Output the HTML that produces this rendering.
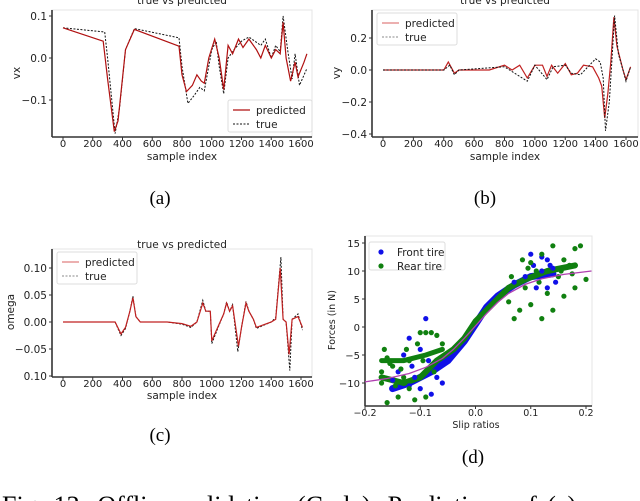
<!DOCTYPE html>
<html><head><meta charset="utf-8"><style>
html,body{margin:0;padding:0;background:#fff;overflow:hidden}
svg{display:block;font-family:"DejaVu Sans","Liberation Sans",sans-serif}
.cap{font-family:"Liberation Serif",serif}
</style></head><body>
<svg id="fig" width="640" height="501" viewBox="0 0 640 501">
<g id="pa"></g>
<g id="pb"></g>
<g id="pc"></g>
<g id="pd"></g>
<text class="cap" x="160" y="204" font-size="19" text-anchor="middle">(a)</text>
<text class="cap" x="485" y="204" font-size="19" text-anchor="middle">(b)</text>
<text class="cap" x="160" y="441" font-size="19" text-anchor="middle">(c)</text>
<text class="cap" x="473" y="463" font-size="19" text-anchor="middle">(d)</text>
<text class="cap" x="2" y="514" font-size="26" word-spacing="4">Fig. 12: Offline validation (Carla). Predictions of (a) c</text>
</svg>
<script>
// ---- panel a data ----
const aPredX=[0,270,300,345,370,420,480,780,800,830,870,900,930,950,980,1020,1050,1080,1110,1140,1180,1210,1250,1300,1330,1360,1400,1430,1460,1480,1500,1530,1560,1580,1620,1640];
const aPredY=[0.072,0.04,-0.05,-0.175,-0.15,0.02,0.068,0.028,-0.04,-0.08,-0.065,-0.04,-0.055,-0.06,0.0,0.045,0.0,-0.075,0.03,0.01,0.045,0.025,0.045,0.02,0.0,0.03,0.0,0.02,0.01,0.085,0.0,-0.055,-0.01,-0.045,-0.01,0.01];
const aTrueX=[0,280,300,350,380,420,480,780,800,840,880,920,950,1000,1030,1050,1080,1110,1150,1200,1250,1290,1330,1360,1400,1430,1460,1480,1510,1540,1560,1590,1640];
const aTrueY=[0.072,0.062,0.0,-0.18,-0.12,0.02,0.07,0.048,-0.02,-0.108,-0.09,-0.07,-0.078,0.02,0.04,-0.02,-0.085,0.0,0.02,0.04,0.05,0.04,0.03,0.045,0.0,0.03,0.015,0.1,0.02,-0.05,0.01,-0.065,-0.025];
const aYTicks=[0.1,0.0,-0.1];
const aYLabels=["0.1","0.0","\u22120.1"];
const idxTicks=[0,200,400,600,800,1000,1200,1400,1600];
// ---- panel b data ----
const bPredX=[0,350,400,430,470,500,700,800,850,900,950,1000,1050,1080,1110,1150,1200,1240,1280,1320,1380,1420,1440,1460,1480,1500,1520,1540,1580,1600,1630];
const bPredY=[0,0,0,0.05,-0.02,0,0,0.03,0,0.03,-0.05,0.03,0.03,-0.04,0.03,-0.02,0.04,-0.03,-0.02,0.03,0.02,-0.05,-0.1,-0.3,-0.15,0.05,0.33,0.15,0,-0.06,0.02];
const bTrueX=[0,400,440,470,500,800,950,1000,1080,1120,1200,1240,1300,1350,1400,1430,1450,1465,1490,1510,1525,1550,1580,1600,1630];
const bTrueY=[0,0,0.03,-0.03,0,0.02,-0.07,0.03,-0.06,0.02,0.03,-0.02,-0.03,0.02,0.07,0.05,-0.05,-0.38,-0.2,0.1,0.34,0.1,0,-0.07,0.02];
const bYTicks=[0.2,0.0,-0.2,-0.4];
const bYLabels=["0.2","0.0","\u22120.2","\u22120.4"];
// ---- panel c data ----
const cPredX=[0,350,390,420,450,470,490,520,700,800,860,900,940,960,990,1000,1040,1080,1100,1120,1140,1180,1200,1230,1250,1280,1300,1350,1400,1430,1460,1480,1500,1520,1540,1580,1610];
const cPredY=[0,0,-0.022,-0.01,0.02,0.045,0.01,0,0,-0.003,-0.008,0,0.035,0.02,0.02,-0.035,-0.01,0.015,0.035,0.02,0.03,-0.045,-0.01,0.035,0.02,0.005,-0.01,-0.005,0,0.005,0.1,0.005,0,-0.06,0.005,0.01,-0.01];
const cTrueX=[0,350,390,420,450,470,490,520,700,800,860,900,940,960,990,1000,1040,1080,1100,1120,1140,1175,1200,1230,1250,1280,1300,1350,1400,1430,1465,1480,1500,1525,1540,1580,1610];
const cTrueY=[0,0,-0.025,-0.012,0.02,0.048,0.01,0,0,-0.004,-0.01,0,0.04,0.02,0.02,-0.04,-0.012,0.015,0.037,0.02,0.032,-0.055,-0.01,0.038,0.02,0.005,-0.012,-0.006,0,0.008,0.12,0.005,0,-0.09,0.005,0.015,-0.015];
const cYTicks=[0.10,0.05,0.00,-0.05,-0.10];
const cYLabels=["0.10","0.05","0.00","\u22120.05","0.10"];
// ---- panel d data ----
const dCurveX=[-0.2,-0.16,-0.12,-0.09,-0.06,-0.04,-0.02,0,0.02,0.04,0.06,0.09,0.12,0.16,0.21];
const dCurveY=[-9.8,-9.2,-8.3,-7.2,-5.6,-4.0,-2.0,0.2,2.4,4.4,6.0,7.6,8.6,9.4,10.0];
const dFrontX=[-0.09,-0.12,-0.1,-0.13,-0.11,-0.14,-0.07,-0.06,-0.1,-0.12,-0.08,0.1,0.13,0.12,0.09,0.14,0.13,0.11,0.07,0.12,0.135,-0.15,-0.115,-0.085,0.105,0.145];
const dFrontY=[1.5,-2,-4,-5,-9,-8,-9,-10,-11,-10.5,-12,13,12,10,9,10.5,7,7,8,12.5,11,-9.5,-7,-6,11,8];
const dRearX=[-0.16,-0.17,-0.165,-0.16,-0.14,-0.12,-0.11,-0.105,-0.1,-0.09,-0.08,-0.07,-0.06,-0.09,-0.12,-0.15,-0.17,-0.13,0.07,0.06,0.08,0.1,0.12,0.14,0.16,0.18,0.17,0.19,0.18,0.14,0.12,0.1,0.09,0.11,0.15,0.13,0.2,0.16,0.065,0.085,-0.155,-0.135,-0.095,-0.145,-0.125,-0.075,0.095,0.115,0.155,0.175];
const dRearY=[-13.5,-8,-4,-5.5,-12.5,-6,-13,-3,-1,-1,-1,-1.5,-3,-12.5,-11,-7,-10,-9,1.5,4.5,3,4,1.5,3,5.5,7,11,14.5,14,14.5,13,11.5,7,10,9,6,8.5,12,9,12,-6.5,-7.5,-6,-10.5,-4,-8,10.5,8,10,9.5];
const dFrontBandX=[-0.15,-0.12,-0.08,-0.05,-0.02,0,0.02,0.04,0.07,0.1,0.14];
const dFrontBandY=[-11,-10,-8,-6,-2.5,0.5,3.5,5.5,7.5,9,9.5];
const dRearBandX=[-0.17,-0.13,-0.1,-0.07,-0.04,-0.02,0,0.02,0.04,0.06,0.09,0.13,0.18];
const dRearBandY=[-9,-10,-9,-6,-4,-2,1,3,5,7,8.5,10,11];
const dRearBand2X=[-0.17,-0.13,-0.09,-0.06];
const dRearBand2Y=[-6,-6,-5,-4];
const dYTicks=[15,10,5,0,-5,-10];
const dYLabels=["15","10","5","0","\u22125","\u221210"];
const dXTicks=[-0.2,-0.1,0,0.1,0.2];
const dXLabels=["\u22120.2","\u22120.1","0.0","0.1","0.2"];

const NS="http://www.w3.org/2000/svg";
function mk(parent,tag,attrs){const e=document.createElementNS(NS,tag);for(const k in attrs)e.setAttribute(k,attrs[k]);parent.appendChild(e);return e;}
function txt(parent,x,y,s,size,anchor,extra){const t=mk(parent,'text',{x:x,y:y,'font-size':size,'text-anchor':anchor||'middle',fill:'#222'});if(extra)for(const k in extra)t.setAttribute(k,extra[k]);t.textContent=s;return t;}
function linear(d0,d1,r0,r1){return v=>r0+(v-d0)*(r1-r0)/(d1-d0);}
function frame(g,x0,x1,y0,y1){
  const f=mk(g,'rect',{x:x0,y:y0,width:x1-x0,height:y1-y0,fill:'none',stroke:'#e4e4e4','stroke-width':1});
  
  const l=mk(g,'line',{x1:x0,y1:y0,x2:x0,y2:y1,stroke:'#333','stroke-width':1.6});
  
  const b=mk(g,'line',{x1:x0,y1:y1,x2:x1,y2:y1,stroke:'#333','stroke-width':1.6});
  
}
function path(g,xs,ys,X,Y,attrs,name){
  let d='';for(let i=0;i<xs.length;i++)d+=(i?'L':'M')+X(xs[i]).toFixed(1)+' '+Y(ys[i]).toFixed(1);
  attrs.d=d;attrs.fill='none';const p=mk(g,'path',attrs);
  return p;
}
function yticks(g,ticks,labels,Y,x0,size){
  ticks.forEach((t,i)=>{const y=Y(t);
    const tk=mk(g,'line',{x1:x0-3,y1:y,x2:x0,y2:y,stroke:'#333','stroke-width':1});
    
    const tl=txt(g,x0-5,y+4,labels[i],size||10.5,'end');
    });
}
function xticks(g,ticks,labels,X,y1,ly,size){
  ticks.forEach((t,i)=>{const x=X(t);
    const tk=mk(g,'line',{x1:x,y1:y1,x2:x,y2:y1+3,stroke:'#333','stroke-width':1});
    
    const tl=txt(g,x,ly,labels[i],size);
    });
}
function legend(g,x,y,w,h,items){
  const r=mk(g,'rect',{x:x,y:y,width:w,height:h,fill:'#fff',stroke:'#ddd','stroke-width':1,rx:2});
  
  items.forEach((it,i)=>{const yy=y+10+i*14;
    if(it.dot){const c=mk(g,'circle',{cx:x+12,cy:yy,r:2.6,fill:it.color});}
    else{const l=mk(g,'line',{x1:x+5,y1:yy,x2:x+22,y2:yy,stroke:it.color,'stroke-width':it.w,'stroke-dasharray':it.dash||'none'});}
    const t=txt(g,x+28,yy+4,it.label,10.5,'start');});
}

// ---- Panel a ----
(function(){
  const g=document.getElementById('pa');
  const X=linear(0,1600,63,301), Y=linear(0,0.1,58,16);
  frame(g,52,312,10,137);
  path(g,aTrueX,aTrueY,X,Y,{stroke:'#111','stroke-width':1,'stroke-dasharray':'2,1.5'},'true-line');
  path(g,aPredX,aPredY,X,Y,{stroke:'#b01010','stroke-width':1.2},'predicted-line');
  yticks(g,aYTicks,aYLabels,Y,52);
  xticks(g,idxTicks,idxTicks.map(String),X,137,147,10);
  const t=txt(g,182,4,'true vs predicted',10.5);
  const xl=txt(g,182,160,'sample index',10.5);
  const yl=txt(g,20,73,'vx',10.5,'middle',{transform:'rotate(-90 20 73)'});
  legend(g,228,100,84,32,[{label:'predicted',color:'#b01010',w:1.2},{label:'true',color:'#111',w:1,dash:'2,1.5'}]);
})();
// ---- Panel b ----
(function(){
  const g=document.getElementById('pb');
  const X=linear(0,1600,383,626), Y=linear(0,0.2,70,38);
  frame(g,372,638,10,137);
  path(g,bPredX,bPredY,X,Y,{stroke:'#c02020','stroke-width':1.2},'predicted-line');
  path(g,bTrueX,bTrueY,X,Y,{stroke:'#111','stroke-width':1,'stroke-dasharray':'2,1.5'},'true-line');
  yticks(g,bYTicks,bYLabels,Y,372);
  xticks(g,idxTicks,idxTicks.map(String),X,137,147,10);
  const t=txt(g,505,4,'true vs predicted',10.5);
  const xl=txt(g,505,160,'sample index',10.5);
  const yl=txt(g,340,73,'vy',10.5,'middle',{transform:'rotate(-90 340 73)'});
  legend(g,377,13,80,32,[{label:'predicted',color:'#e08080',w:1.2},{label:'true',color:'#888',w:1,dash:'2,1.5'}]);
})();
// ---- Panel c ----
(function(){
  const g=document.getElementById('pc');
  const X=linear(0,1600,63,301), Y=linear(0,0.05,322,295);
  frame(g,52,312,249,377);
  path(g,cTrueX,cTrueY,X,Y,{stroke:'#111','stroke-width':1,'stroke-dasharray':'2,1.5'},'true-line');
  path(g,cPredX,cPredY,X,Y,{stroke:'#c02020','stroke-width':1.2},'predicted-line');
  yticks(g,cYTicks,cYLabels,Y,52);
  xticks(g,idxTicks,idxTicks.map(String),X,377,387,10);
  const t=txt(g,182,248,'true vs predicted',10.5);
  const xl=txt(g,182,399,'sample index',10.5);
  const yl=txt(g,14,312,'omega',10.5,'middle',{transform:'rotate(-90 14 312)'});
  legend(g,57,252,80,32,[{label:'predicted',color:'#e08080',w:1.2},{label:'true',color:'#888',w:1,dash:'2,1.5'}]);
})();
// ---- Panel d ----
(function(){
  const g=document.getElementById('pd');
  const X=linear(-0.2,0.2,365,586), Y=linear(0,10,327,271);
  frame(g,365,592,236,406);
  path(g,dFrontBandX,dFrontBandY,X,Y,{stroke:'#1010e8','stroke-width':7,'stroke-linecap':'round','stroke-linejoin':'round'},'front-tire-band');
  path(g,dRearBandX,dRearBandY,X,Y,{stroke:'#108010','stroke-width':6,'stroke-linecap':'round','stroke-linejoin':'round'},'rear-tire-band');
  path(g,dRearBand2X,dRearBand2Y,X,Y,{stroke:'#108010','stroke-width':5,'stroke-linecap':'round'},'rear-tire-band-upper');
  dFrontX.forEach((x,i)=>{const c=mk(g,'circle',{cx:X(x),cy:Y(dFrontY[i]),r:2.6,fill:'#1010e8'});
    
    });
  dRearX.forEach((x,i)=>{const c=mk(g,'circle',{cx:X(x),cy:Y(dRearY[i]),r:2.6,fill:'#108010'});
    
    });
  path(g,dCurveX,dCurveY,X,Y,{stroke:'#b040b0','stroke-width':1.3},'fitted-curve');
  yticks(g,dYTicks,dYLabels,Y,365,10);
  xticks(g,dXTicks,dXLabels,X,406,416,9.5);
  const xl=txt(g,476,428,'Slip ratios',9.5);
  const yl=txt(g,335,320,'Forces (in N)',9.5,'middle',{transform:'rotate(-90 335 320)'});
  legend(g,369,242,76,28,[{label:'Front tire',color:'#1010e8',dot:true},{label:'Rear tire',color:'#108010',dot:true}]);
})();
</script>
</body></html>
